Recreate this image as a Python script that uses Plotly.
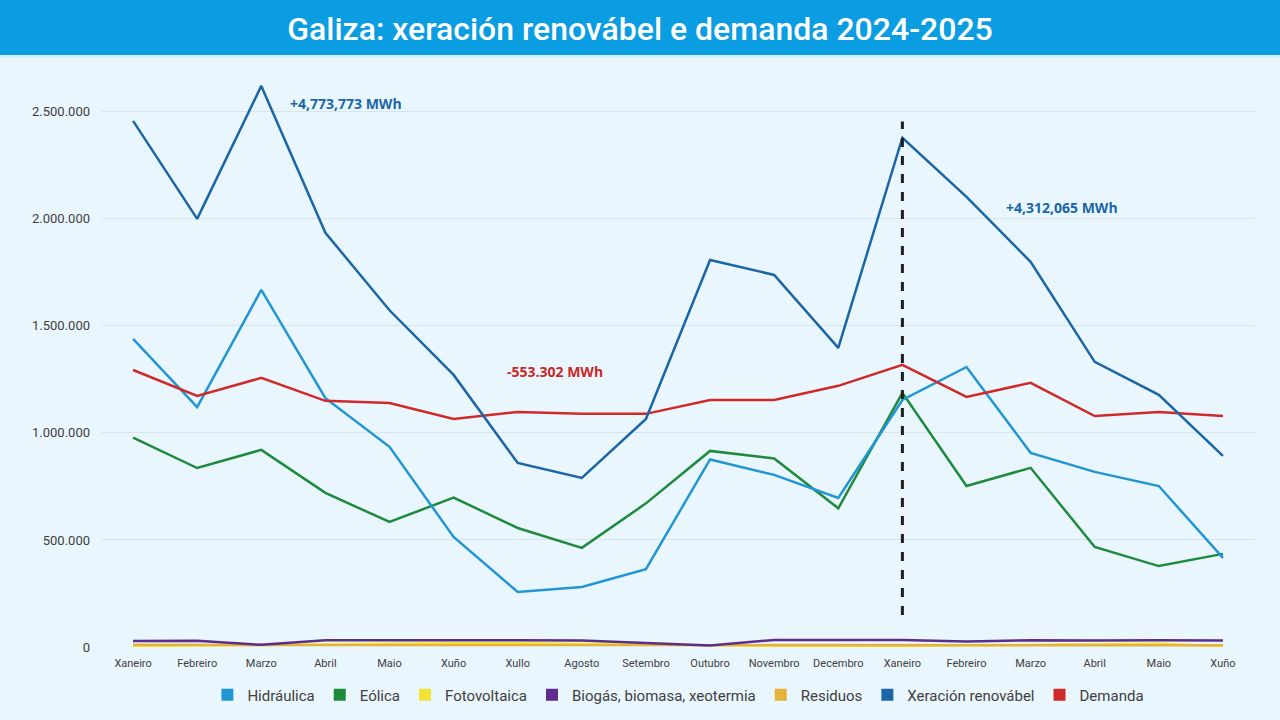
import plotly.graph_objects as go

months = ["Xaneiro", "Febreiro", "Marzo", "Abril", "Maio", "Xuño", "Xullo", "Agosto",
          "Setembro", "Outubro", "Novembro", "Decembro", "Xaneiro", "Febreiro", "Marzo",
          "Abril", "Maio", "Xuño"]
month_idx = list(range(len(months)))

hidraulica = [1439000, 1121000, 1668000, 1162000, 935000, 514000, 257000, 280000, 364000,
              876000, 804000, 696000, 1154000, 1308000, 907000, 818000, 752000, 416000]
eolica = [978000, 836000, 921000, 720000, 584000, 698000, 556000, 463000, 671000,
          916000, 881000, 648000, 1187000, 752000, 837000, 467000, 378000, 435000]
fotovoltaica = [5000, 8000, 11000, 14000, 16000, 17000, 17000, 15000, 12000,
                8000, 5000, 4000, 5000, 8000, 11000, 14000, 15000, 3000]
biogas = [28000, 29000, 10000, 31000, 32000, 33000, 32000, 30000, 17000,
          7000, 33000, 33000, 33000, 26000, 32000, 30000, 32000, 30000]
residuos = [10000, 10000, 9000, 10000, 10000, 10000, 10000, 10000, 9000,
            8000, 10000, 10000, 10000, 10000, 10000, 10000, 10000, 8000]
xeracion = [2458000, 2000000, 2621000, 1935000, 1573000, 1271000, 860000, 790000, 1065000,
            1808000, 1738000, 1397000, 2379000, 2103000, 1799000, 1332000, 1178000, 893000]
demanda = [1294000, 1173000, 1257000, 1150000, 1140000, 1065000, 1098000, 1089000, 1089000,
           1154000, 1154000, 1220000, 1318000, 1168000, 1234000, 1079000, 1098000, 1079000]

series = [
    ("Hidráulica", hidraulica, "#2196d3"),
    ("Eólica", eolica, "#1e8a3c"),
    ("Fotovoltaica", fotovoltaica, "#f3e234"),
    ("Biogás, biomasa, xeotermia", biogas, "#5c2d8c"),
    ("Residuos", residuos, "#e6b33a"),
    ("Xeración renovábel", xeracion, "#1b66a6"),
    ("Demanda", demanda, "#d0292a"),
]

annotations_txt = [
    ("+4,773,773 MWh", 2.42, 2537000, "#1b66a6"),
    ("+4,312,065 MWh", 13.58, 2055000, "#1b66a6"),
    ("-553.302 MWh", 5.80, 1289000, "#c8282a"),
]

split_x = 12
split_y = [150000, 2455000]

fig = go.Figure()
draw_order = [2, 4, 3, 1, 0, 6, 5]
for i in draw_order:
    name, vals, col = series[i]
    fig.add_trace(go.Scatter(x=month_idx, y=vals, mode="lines", name=name,
                             line=dict(color=col, width=2.5), showlegend=False,
                             hoverinfo="x+y+name"))
for name, vals, col in series:
    fig.add_trace(go.Scatter(x=[None], y=[None], mode="markers", name=name,
                             marker=dict(symbol="square", size=10, color=col),
                             showlegend=True))

fig.add_shape(type="line", x0=split_x, x1=split_x, y0=split_y[0], y1=split_y[1],
              xref="x", yref="y", line=dict(color="#1e1e1e", width=3, dash="dash"))

# title bar (paper coords: plot spans 101..1255 px horizontally, 69..647 px vertically)
fig.add_shape(type="rect", xref="paper", yref="paper", x0=-0.0875, x1=1.0217,
              y0=1.0242, y1=1.125, fillcolor="#0b9de2", line=dict(width=0), layer="below")
fig.add_shape(type="rect", xref="paper", yref="paper", x0=-0.0875, x1=1.0217,
              y0=1.0200, y1=1.0242, fillcolor="#cfeefe", line=dict(width=0), layer="below")

for txt, xv, yv, col in annotations_txt:
    fig.add_annotation(x=xv, y=yv, text=f"<b>{txt}</b>", showarrow=False, xanchor="left",
                       yanchor="middle", font=dict(family="Open Sans", size=14, color=col))

fig.update_layout(
    width=1280, height=720,
    margin=dict(l=101, r=25, t=69, b=73, autoexpand=False),
    paper_bgcolor="#eaf6fd", plot_bgcolor="#eaf6fd",
    separators=",.",
    title=dict(text="Galiza: xeración renovábel e demanda 2024-2025", x=0.5, xanchor="center",
               y=1 - 29 / 720, yanchor="middle", xref="container", yref="container",
               font=dict(family="Roboto", size=32, color="white", weight=500)),
    xaxis=dict(tickmode="array", tickvals=month_idx, ticktext=months, range=[-0.5, 17.5],
               showgrid=False, zeroline=False, showline=False, ticks="",
               ticklabelstandoff=8,
               tickfont=dict(family="Roboto", size=11, color="#404040")),
    yaxis=dict(range=[0, 2700000], dtick=500000, tickformat=",d", showgrid=True,
               gridcolor="#d6e5ef", gridwidth=1, zeroline=False, showline=False, ticks="",
               ticklen=0, ticklabelstandoff=10,
               tickfont=dict(family="Roboto", size=13, color="#404040")),
    legend=dict(orientation="h", x=0.53, xanchor="center", xref="container",
                y=1 - 695 / 720, yanchor="middle", yref="container",
                font=dict(family="Roboto", size=15, color="#404040"),
                bgcolor="rgba(0,0,0,0)", itemsizing="constant", itemwidth=30,
                tracegroupgap=0),
    font=dict(family="Roboto"),
)

fig.write_html("out.html")
